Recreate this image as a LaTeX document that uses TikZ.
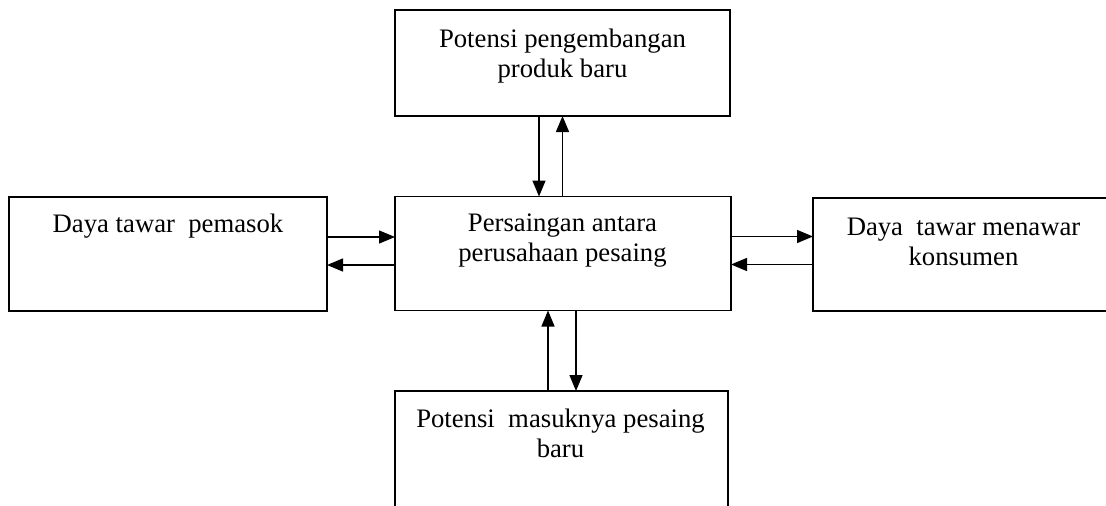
\documentclass[tikz,border=0pt]{standalone}
\usepackage{fontspec}
\setmainfont{Liberation Serif}
\usetikzlibrary{arrows.meta}
\begin{document}
\begin{tikzpicture}[x=1pt, y=-1pt,
   box/.style={draw, line width=1.6pt, inner sep=0pt, outer sep=0pt},
   txt/.style={align=center, inner sep=0pt, anchor=base,
      font=\fontsize{26.7}{30}\selectfont},
   arr/.style={-{Triangle[length=16pt, width=13pt]}, line width=1.4pt}]
   \clip (0,0) rectangle (1106,506);
   % Boxes
   \node[box, minimum width=335pt, minimum height=106pt] (produk) at (562.5,63) {};
   \node[box, minimum width=318pt, minimum height=114pt] (pemasok) at (168,254) {};
   \node[box, minimum width=336pt, minimum height=114pt] (pesaing) at (563,253.5) {};
   \node[box, minimum width=301pt, minimum height=113pt] (konsumen) at (963.5,254.5) {};
   \node[box, minimum width=333pt, minimum height=130pt] (baru) at (561.5,456) {};

   % Texts (anchored on the last line)
   \node[txt] (produkT) at (562.5,77) {Potensi pengembangan\\produk baru};
   \node[txt] (pemasokT) at (168,232) {Daya tawar\ \ pemasok};
   \node[txt] (pesaingT) at (562.5,261) {Persaingan antara\\perusahaan pesaing};
   \node[txt] (konsumenT) at (963.5,265) {Daya\ \ tawar menawar\\konsumen};
   \node[txt] (baruT) at (560.5,457) {Potensi\ \ masuknya pesaing\\baru};

   % Arrows top
   \draw[arr] ([xshift=-23.5pt]produk.south) -- ([xshift=-23.5pt]produk.south |- pesaing.north);
   \draw[arr] (pesaing.north -| produk.south) -- (produk.south);
   % Arrows left
   \draw[arr] ([yshift=17pt]pemasok.east) -- ([yshift=17pt]pemasok.east -| pesaing.west);
   \draw[arr] ([yshift=-11pt]pemasok.east -| pesaing.west) -- ([yshift=-11pt]pemasok.east);
   % Arrows right
   \draw[arr] ([yshift=17pt]pesaing.east) -- ([yshift=17pt]pesaing.east -| konsumen.west);
   \draw[arr] ([yshift=-11pt]pesaing.east -| konsumen.west) -- ([yshift=-11pt]pesaing.east);
   % Arrows bottom
   \draw[arr] ([xshift=-13.5pt]baru.north) -- ([xshift=-13.5pt]baru.north |- pesaing.south);
   \draw[arr] ([xshift=14.5pt]baru.north |- pesaing.south) -- ([xshift=14.5pt]baru.north);
\end{tikzpicture}
\end{document}
